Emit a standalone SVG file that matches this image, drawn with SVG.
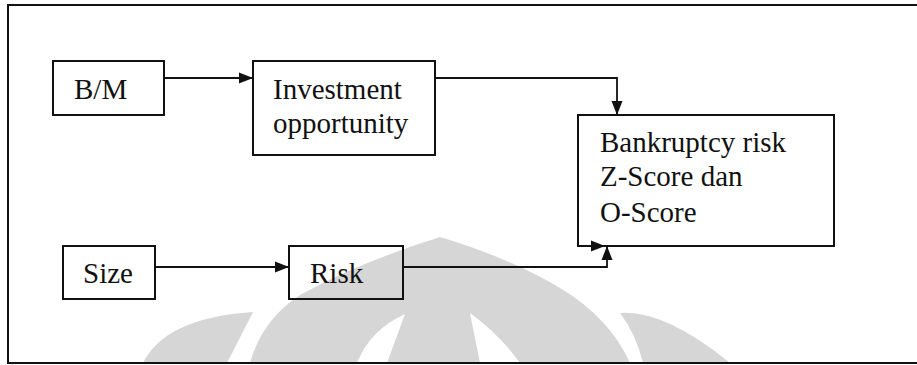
<svg xmlns="http://www.w3.org/2000/svg" width="917" height="365" viewBox="0 0 917 365">
<style>
.box{fill:none;stroke:#111;stroke-width:2}
.lbl{font-family:"Liberation Serif","Times New Roman",serif;font-size:29px;fill:#111}
.con{fill:none;stroke:#111;stroke-width:1.8}
.wm{fill:#d6d6d6;stroke:none}
.frame{stroke:#111;stroke-width:2;fill:none}
</style>
<defs>
<marker id="ah" markerUnits="userSpaceOnUse" markerWidth="16" markerHeight="12" refX="14" refY="6" orient="auto">
<path d="M0,0.5 L14,6 L0,11.5 Z" fill="#111"/>
</marker>
</defs>
<rect width="917" height="365" fill="#fff"/>
<g id="watermark">
<path class="wm" d="M143,363 Q165,318 253,312 L227,363 Z"/>
<path class="wm" d="M250,363 Q262,320 300,295 Q360,262 440,237 Q510,258 560,288 Q610,318 630,363 L520,363 Q500,335 470,313 L480,363 L387,363 L405,314 Q370,330 357,363 Z"/>
<path class="wm" d="M620,313 Q665,310 730,363 L643,363 Q636,334 620,313 Z"/>
</g>
<g id="frame">
<path class="frame" d="M917,5 H8 V363 H917"/>
</g>
<g id="connectors">
<path class="con" d="M164,78 H253" marker-end="url(#ah)"/>
<path class="con" d="M435,78 H617 V115" marker-end="url(#ah)"/>
<path class="con" d="M155,267 H289" marker-end="url(#ah)"/>
<path class="con" d="M403,267 H607 V246" marker-end="url(#ah)"/>
<path class="con" d="M590,246 H605" marker-end="url(#ah)"/>
</g>
<g id="bm">
<rect class="box" x="53" y="61" width="111" height="54"/>
<text class="lbl" x="74" y="99">B/M</text>
</g>
<g id="investment">
<rect class="box" x="253" y="61" width="182" height="94"/>
<text class="lbl" x="273" y="99">Investment</text>
<text class="lbl" x="273" y="133">opportunity</text>
</g>
<g id="size">
<rect class="box" x="63" y="246" width="92" height="53"/>
<text class="lbl" x="83" y="283">Size</text>
</g>
<g id="risk">
<rect class="box" x="289" y="246" width="114" height="53"/>
<text class="lbl" x="310" y="283">Risk</text>
</g>
<g id="bankruptcy">
<rect class="box" x="578" y="115" width="256" height="131"/>
<text class="lbl" x="600" y="152">Bankruptcy risk</text>
<text class="lbl" x="600" y="186">Z-Score dan</text>
<text class="lbl" x="600" y="222">O-Score</text>
</g>
</svg>
